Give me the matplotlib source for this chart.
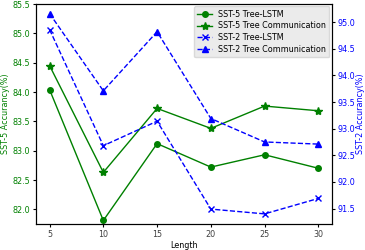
import matplotlib.pyplot as plt

lengths = [5, 10, 15, 20, 25, 30]
sst5_tree_lstm = [84.04, 81.81, 83.12, 82.72, 82.93, 82.70]
sst5_tree_comm = [84.45, 82.63, 83.72, 83.38, 83.76, 83.68]
sst2_tree_lstm = [94.86, 92.68, 93.14, 91.49, 91.40, 91.69]
sst2_tree_comm = [95.16, 93.71, 94.82, 93.19, 92.75, 92.71]

plt.rcParams['font.size'] = 5.8

fig = plt.figure(figsize=(3.65, 2.5), dpi=100)
ax1 = fig.add_axes([0.099, 0.104, 0.81, 0.88])
ax2 = ax1.twinx()

l1, = ax1.plot(lengths, sst5_tree_lstm, color='green', marker='o', markersize=4,
               linewidth=1, label='SST-5 Tree-LSTM')
l2, = ax1.plot(lengths, sst5_tree_comm, color='green', marker='*', markersize=6,
               linewidth=1, label='SST-5 Tree Communication')
l3, = ax2.plot(lengths, sst2_tree_lstm, color='blue', marker='x', markersize=5,
               linestyle='--', linewidth=1, label='SST-2 Tree-LSTM')
l4, = ax2.plot(lengths, sst2_tree_comm, color='blue', marker='^', markersize=5,
               linestyle='--', linewidth=1, label='SST-2 Tree Communication')

ax1.set_ylim(81.75, 85.5)
ax2.set_ylim(91.21, 95.34)
ax1.set_xticks(lengths)
ax1.set_xlabel('Length', labelpad=1.5)
ax1.set_ylabel('SST-5 Accurancy(%)', color='green', labelpad=1.5)
ax2.set_ylabel('SST-2 Accurancy(%)', color='blue', labelpad=0.5)
ax1.tick_params(axis='x', length=2.5, pad=2, labelcolor='0.25')
ax1.tick_params(axis='y', colors='black', labelcolor='green', length=2.5, pad=2)
ax2.tick_params(axis='y', colors='black', labelcolor='blue', length=2.5, pad=1.5)

leg = ax2.legend(handles=[l1, l2, l3, l4], loc='upper right', fontsize=5.8,
                 facecolor='0.92', edgecolor='0.85', borderaxespad=0.3,
                 handlelength=1.8, labelspacing=0.35)
leg.get_frame().set_alpha(1)

fig.savefig('out.png', dpi=100)
